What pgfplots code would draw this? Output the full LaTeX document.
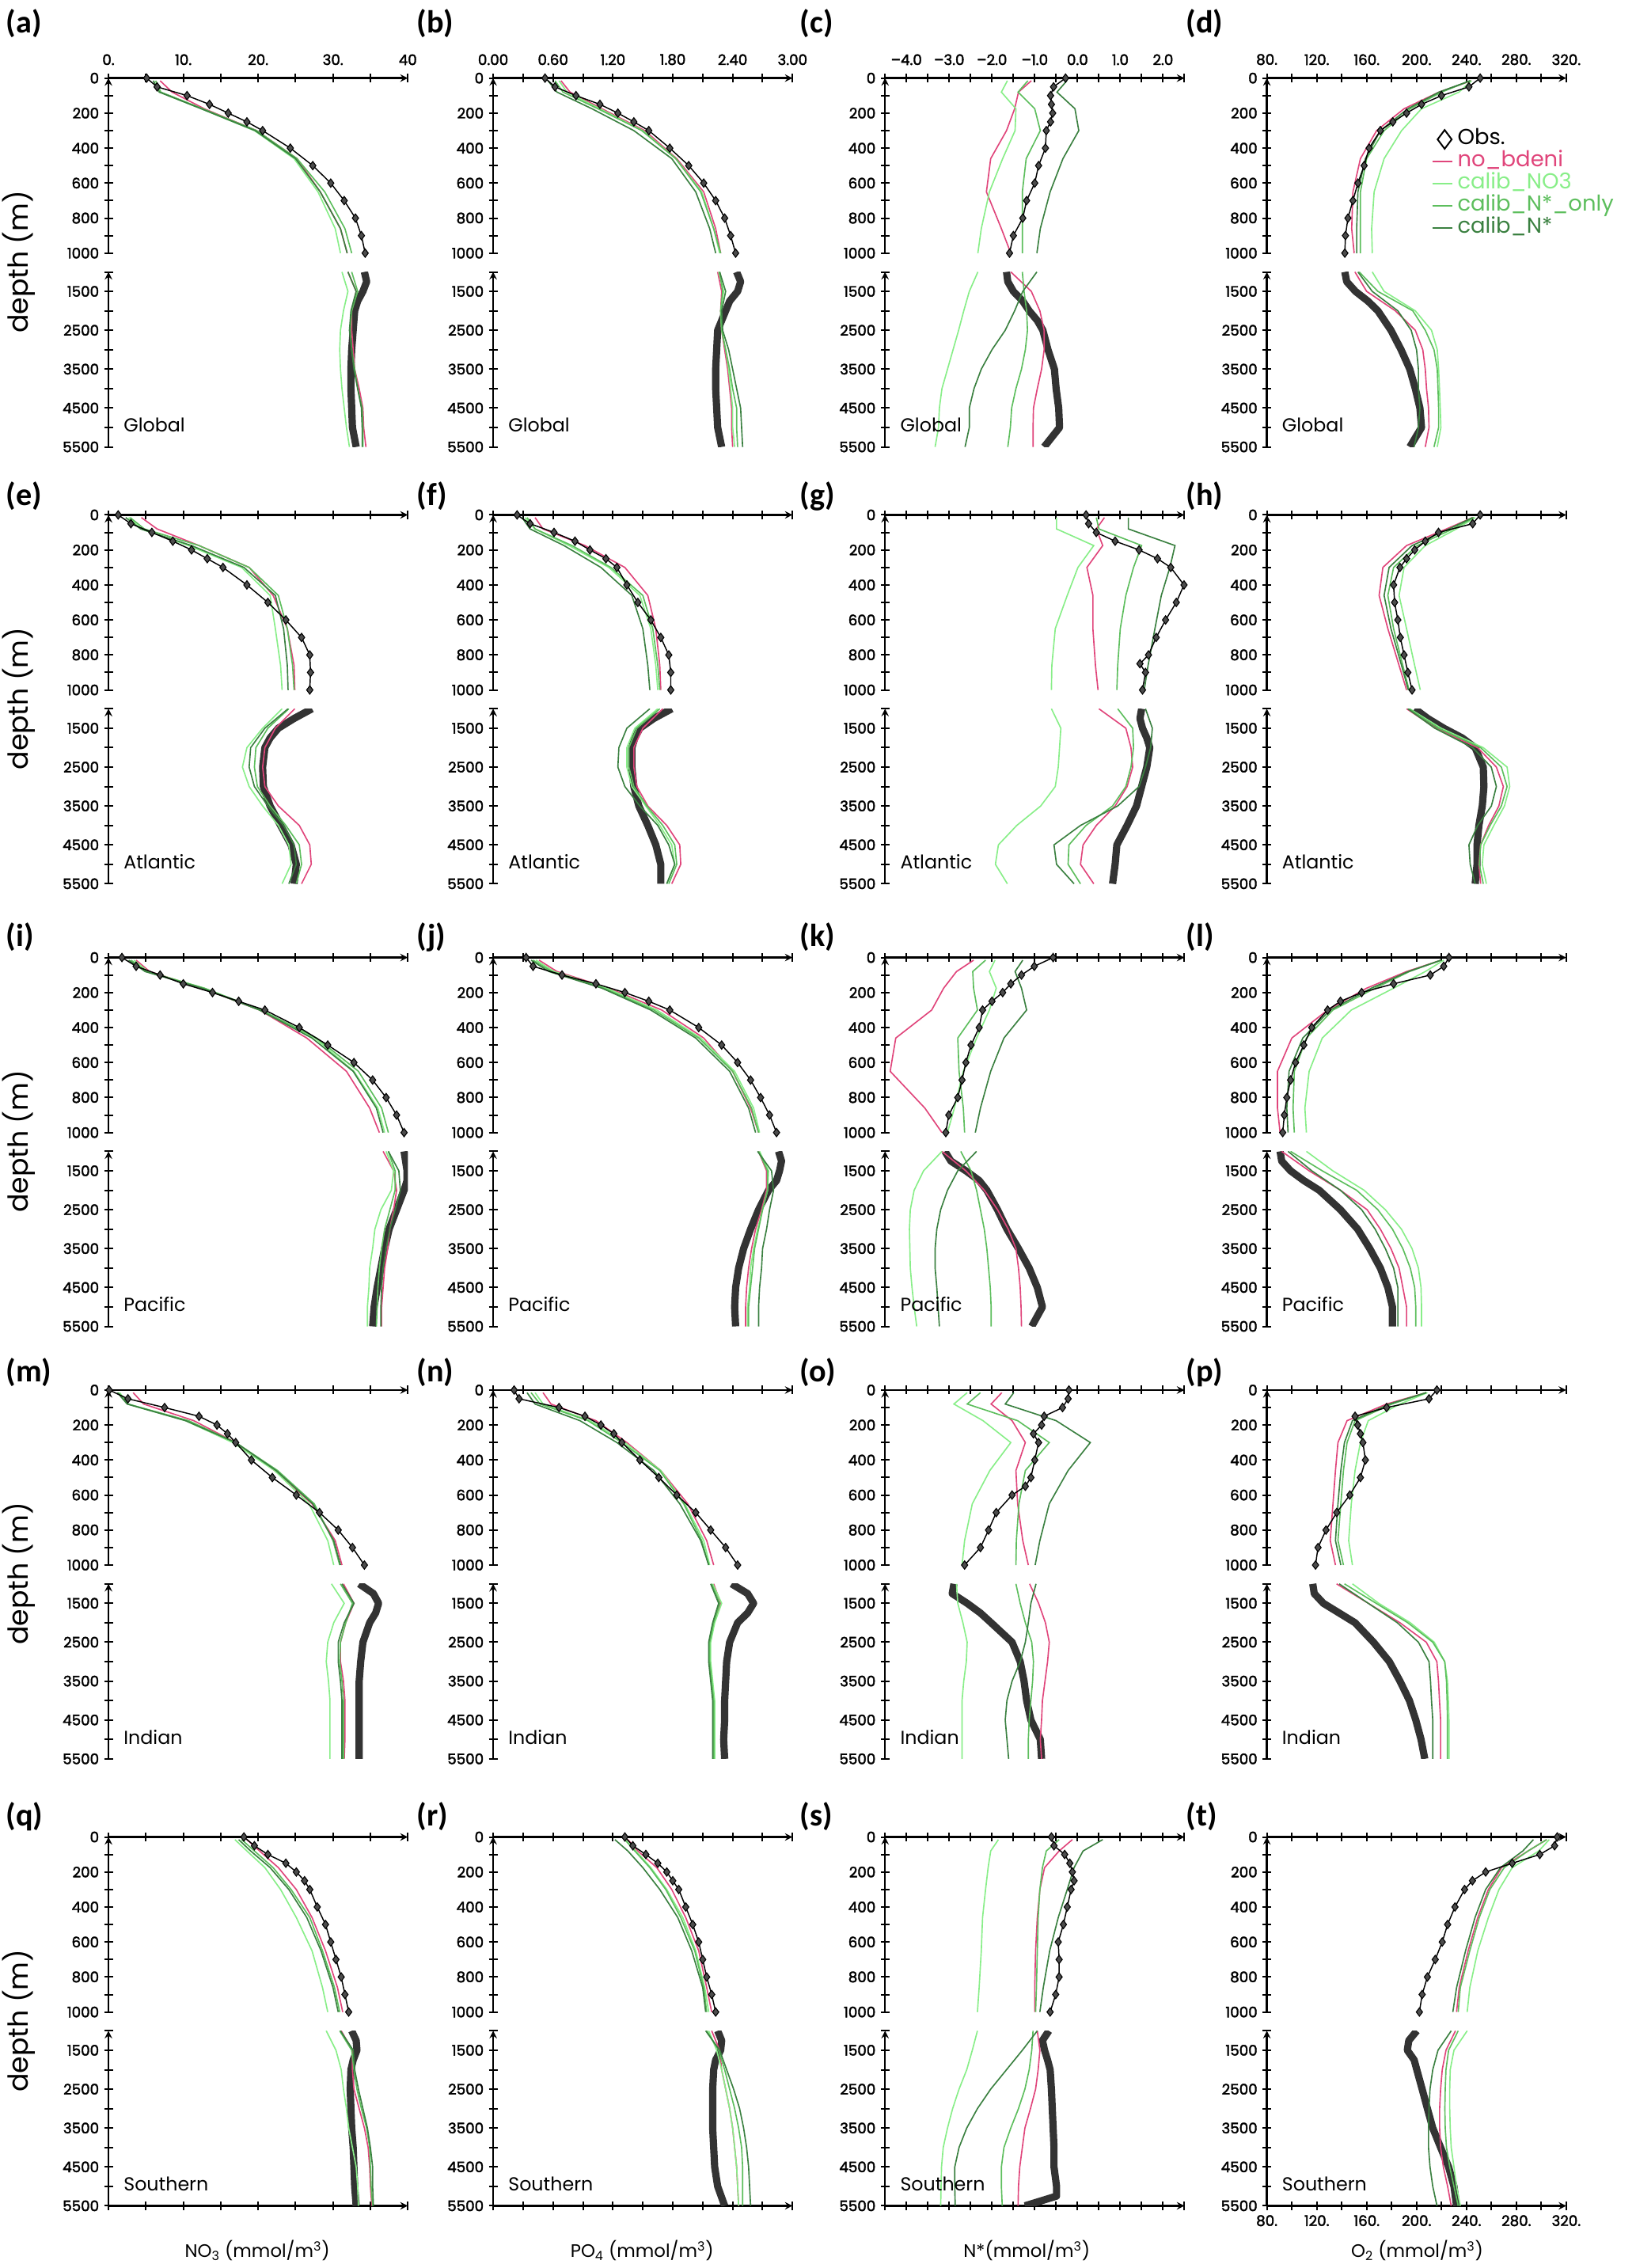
\documentclass[border=0pt]{standalone}
\usepackage{fontspec}
\setmainfont{Poppins}
\newfontfamily\carl{Carlito}
\newfontfamily\tickf{Poppins}[FakeBold=2.2]
\usepackage{pgfplots}
\usepackage{pgfplotstable}
\pgfplotsset{compat=1.18}
\definecolor{cNB}{HTML}{E0457B}
\definecolor{cNO}{HTML}{88EE88}
\definecolor{cSO}{HTML}{5DBE5D}
\definecolor{cNS}{HTML}{3A8040}
\definecolor{cOB}{HTML}{333333}
% ---------------- data: models (a=no_bdeni, b=calib_NO3, c=calib_N*_only, e=calib_N*) and obs
% (a) NO3 Global
\pgfplotstableread{
d a b c e
15 6.9 6.0 6.3 6.0
80 8.5 6.8 7.0 6.8
175 12.8 12.4 12.6 12.4
300 19.8 19.5 19.8 19.6
460 25.2 24.8 25.2 25.0
650 28.3 28.0 28.9 28.3
860 31.0 30.3 31.6 31.0
1000 31.9 31.0 32.5 31.9
}\MaU
\pgfplotstableread{
d v
0 5.1
50 6.5
100 10.5
150 13.5
200 16.0
250 18.5
300 20.6
400 24.3
500 27.3
600 29.7
700 31.5
800 33.0
900 33.8
1000 34.3
}\OaU
\pgfplotstableread{
d a b c e
1000 32.0 31.2 32.5 32.0
1500 33.1 32.0 33.3 33.1
2000 32.5 31.4 32.5 32.4
2500 32.5 31.0 32.3 32.2
3000 32.7 30.9 32.5 32.5
3500 32.9 31.0 32.9 32.8
4000 33.5 31.2 33.3 33.3
4500 34.0 31.5 33.9 33.8
5000 34.1 31.8 34.0 33.9
5500 34.4 32.2 34.0 33.9
}\MaL
\pgfplotstableread{
d v
1000 34.2
1250 34.5
1500 34.0
1750 33.3
2000 32.9
2500 32.7
3000 32.5
3500 32.4
4000 32.4
4500 32.5
5000 32.6
5500 33.1
}\OaL
% (b) PO4 Global
\pgfplotstableread{
d a b c e
15 0.68 0.66 0.62 0.55
80 0.77 0.74 0.70 0.64
175 1.09 1.07 1.05 0.99
300 1.52 1.50 1.49 1.41
460 1.84 1.83 1.83 1.79
650 2.11 2.09 2.08 2.03
860 2.23 2.21 2.21 2.17
1000 2.28 2.27 2.28 2.23
}\MbU
\pgfplotstableread{
d v
0 0.52
50 0.62
100 0.83
150 1.07
200 1.25
250 1.41
300 1.56
400 1.77
500 1.96
600 2.11
700 2.23
800 2.32
900 2.38
1000 2.43
}\ObU
\pgfplotstableread{
d a b c e
1000 2.25 2.26 2.27 2.27
1500 2.29 2.31 2.30 2.33
2000 2.28 2.28 2.28 2.29
2500 2.29 2.29 2.29 2.30
3000 2.32 2.33 2.33 2.36
3500 2.35 2.36 2.37 2.40
4000 2.37 2.38 2.40 2.44
4500 2.39 2.40 2.44 2.48
5000 2.39 2.40 2.44 2.49
5500 2.40 2.42 2.45 2.50
}\MbL
\pgfplotstableread{
d v
1000 2.44
1250 2.48
1500 2.45
1750 2.37
2000 2.33
2500 2.25
3000 2.24
3500 2.23
4000 2.23
4500 2.24
5000 2.25
5500 2.29
}\ObL
% (c) N* Global
\pgfplotstableread{
d a b c e
15 -1.08 -1.64 -1.16 -0.25
80 -1.38 -1.78 -1.39 -0.48
175 -1.47 -1.44 -1.00 -0.06
300 -1.66 -1.46 -0.87 0.03
460 -2.03 -1.75 -1.20 -0.34
650 -2.13 -2.06 -1.29 -0.64
860 -1.78 -2.25 -1.29 -0.87
1000 -1.56 -2.33 -1.29 -0.95
}\McU
\pgfplotstableread{
d v
0 -0.28
50 -0.56
100 -0.63
150 -0.61
200 -0.58
250 -0.63
300 -0.73
400 -0.75
500 -0.91
600 -1.00
700 -1.19
800 -1.28
900 -1.50
1000 -1.59
}\OcU
\pgfplotstableread{
d a b c e
1000 -1.56 -2.33 -1.29 -0.95
1500 -1.08 -2.53 -1.25 -1.28
2000 -0.88 -2.66 -1.19 -1.47
2500 -0.78 -2.78 -1.17 -1.69
3000 -0.78 -2.91 -1.22 -2.00
3500 -0.84 -3.04 -1.31 -2.25
4000 -0.94 -3.17 -1.44 -2.42
4500 -1.03 -3.23 -1.54 -2.53
5000 -1.04 -3.25 -1.57 -2.53
5500 -1.04 -3.33 -1.63 -2.63
}\McL
\pgfplotstableread{
d v
1000 -1.66
1250 -1.63
1500 -1.50
1750 -1.28
2000 -1.13
2250 -0.94
2500 -0.81
3000 -0.69
3500 -0.54
4000 -0.50
4500 -0.44
5000 -0.42
5500 -0.78
}\OcL
% (d) O2 Global
\pgfplotstableread{
d a b c e
15 244 244 243 243
80 218 234 220 218
175 190 204 195 193
300 168 188 174 171
460 155 174 160 159
650 149 166 155 153
860 148 164 155 152
1000 150 164.5 155 152
}\MdU
\pgfplotstableread{
d v
0 251
50 242
100 220
150 204
200 192
250 181
300 171
400 162
500 158
600 153
700 149
800 145
900 143
1000 142.5
}\OdU
\pgfplotstableread{
d a b c e
1000 150.6 164.5 154 153
1500 160 174 169 164.5
2000 183 199 197 185
2500 199 212 207 195.7
3000 205 216.6 214 200
3500 207 217.7 216.6 201.5
4000 208 218.4 217.2 201.5
4500 209.6 219 217.7 202.7
5000 210 219.5 217.7 201.5
5500 207 216.6 214 198
}\MdL
\pgfplotstableread{
d v
1000 142.5
1250 144
1500 151
1750 161
2000 169
2500 179.5
3000 187.6
3500 194.6
4000 199
4500 202.7
5000 204
5500 194.6
}\OdL
% (e) NO3 Atlantic
\pgfplotstableread{
d a b c e
15 4.4 2.7 2.9 2.3
80 6.5 4.4 4.8 4.3
175 12.1 10.7 12.1 11.1
300 18.8 17.8 18.8 18.1
460 22.0 21.6 22.7 22.3
650 23.9 22.3 23.9 23.4
860 24.8 23.0 24.6 23.9
1000 24.9 23.2 24.8 24.0
}\MeU
\pgfplotstableread{
d v
0 1.3
50 3.0
100 5.8
150 8.6
200 11.1
250 13.2
300 15.3
400 18.5
500 21.3
600 23.7
700 25.8
800 26.9
900 27.0
1000 26.9
}\OeU
\pgfplotstableread{
d a b c e
1000 24.9 23.2 24.1 24.0
1500 22.3 20.6 21.3 20.9
2000 20.9 18.5 19.7 19.0
2500 20.6 17.9 19.5 18.8
3000 20.9 18.8 19.9 19.5
3500 22.7 20.6 21.6 21.3
4000 25.5 22.7 23.7 23.4
4500 26.9 24.1 25.5 24.8
5000 27.1 24.4 25.8 25.1
5500 25.8 23.2 25.1 24.1
}\MeL
\pgfplotstableread{
d v
1000 27.2
1250 24.8
1500 22.7
1750 21.6
2000 20.9
2500 20.6
3000 20.7
3500 21.6
4000 23.0
4500 24.4
5000 25.1
5500 24.8
}\OeL
% (f) PO4 Atlantic
\pgfplotstableread{
d a b c e
15 0.42 0.32 0.34 0.29
80 0.50 0.42 0.42 0.37
175 0.92 0.76 0.79 0.71
300 1.32 1.16 1.18 1.08
460 1.55 1.47 1.50 1.39
650 1.63 1.58 1.60 1.50
860 1.67 1.63 1.65 1.55
1000 1.68 1.65 1.67 1.57
}\MfU
\pgfplotstableread{
d v
0 0.24
50 0.37
100 0.61
150 0.82
200 0.97
250 1.13
300 1.24
400 1.34
500 1.45
600 1.58
700 1.68
800 1.76
900 1.78
1000 1.78
}\OfU
\pgfplotstableread{
d a b c e
1000 1.70 1.65 1.67 1.57
1500 1.50 1.42 1.44 1.34
2000 1.41 1.34 1.36 1.26
2500 1.41 1.34 1.36 1.25
3000 1.44 1.39 1.41 1.32
3500 1.55 1.53 1.54 1.47
4000 1.74 1.67 1.70 1.65
4500 1.87 1.79 1.82 1.76
5000 1.88 1.82 1.84 1.82
5500 1.79 1.74 1.76 1.74
}\MfL
\pgfplotstableread{
d v
1000 1.79
1250 1.61
1500 1.47
1750 1.42
2000 1.39
2500 1.39
3000 1.41
3500 1.46
4000 1.55
4500 1.63
5000 1.68
5500 1.68
}\OfL
% (g) N* Atlantic
\pgfplotstableread{
d a b c e
15 0.63 -0.49 0.44 1.19
80 0.44 -0.49 0.50 1.19
175 0.59 0.38 1.50 2.28
300 0.22 0.01 1.31 2.16
460 0.36 -0.24 1.13 1.96
650 0.36 -0.52 1.00 1.81
860 0.42 -0.60 0.94 1.65
1000 0.48 -0.61 0.92 1.56
}\MgU
\pgfplotstableread{
d v
0 0.20
50 0.26
100 0.44
150 0.88
200 1.44
250 1.87
300 2.18
400 2.49
500 2.31
600 2.06
700 1.84
800 1.66
850 1.46
900 1.59
1000 1.52
}\OgU
\pgfplotstableread{
d a b c e
1000 0.50 -0.61 0.94 1.59
1500 1.13 -0.39 1.29 1.75
2000 1.25 -0.42 1.31 1.71
2500 1.29 -0.45 1.25 1.59
3000 1.16 -0.52 1.13 1.44
3500 0.88 -0.86 0.82 0.94
4000 0.44 -1.42 0.20 0.07
4500 0.13 -1.85 -0.20 -0.55
5000 0.07 -1.92 -0.22 -0.49
5500 0.38 -1.64 0.07 -0.08
}\MgL
\pgfplotstableread{
d v
1000 1.50
1250 1.46
1500 1.52
1750 1.62
2000 1.69
2500 1.62
3000 1.50
3500 1.38
4000 1.16
4500 0.92
5000 0.88
5500 0.82
}\OgL
% (h) O2 Atlantic
\pgfplotstableread{
d a b c e
15 245 247 246 245
80 224 232 229 226
175 192 207 200.6 196.4
300 173 190 181.6 178
460 170 186 177 174
650 177 192 181.6 179.5
860 186 198.5 189 188
1000 192 203 194 193.4
}\MhU
\pgfplotstableread{
d v
0 251
50 245
100 217.6
150 207
200 198.5
250 192
300 186.7
400 181.6
500 182.4
600 185
700 187
800 190
900 193
1000 196.4
}\OhU
\pgfplotstableread{
d a b c e
1000 192 194.5 194 193
1500 215.4 219.7 217.6 214.6
2000 249 253.5 251.4 245
2500 264 272.6 268 259.9
3000 269.6 274.7 272.6 264
3500 266 270.5 268 260
4000 257.8 262 259 249
4500 251.4 254 251.4 242
5000 250 252.7 250.3 243
5500 251.4 256 253.5 247
}\MhL
\pgfplotstableread{
d v
1000 198.5
1250 209
1500 221.8
1750 236.6
2000 247
2500 253.5
3000 254
3500 252.7
4000 250
4500 248.5
5000 248.5
5500 247
}\OhL
% (i) NO3 Pacific
\pgfplotstableread{
d a b c e
15 3.7 3.4 3.0 2.7
80 5.5 5.3 5.1 4.9
175 12.5 12.8 12.8 12.5
300 20.2 20.2 20.4 20.2
460 26.5 27.6 27.8 27.2
650 31.8 32.8 33.4 32.7
860 34.9 36.0 36.5 35.8
1000 36.2 36.9 37.4 36.7
}\MiU
\pgfplotstableread{
d v
0 1.8
50 3.7
100 6.9
150 10.0
200 13.9
250 17.4
300 20.9
400 25.5
500 29.3
600 32.8
700 35.3
800 37.1
900 38.5
1000 39.5
}\OiU
\pgfplotstableread{
d a b c e
1000 36.7 37.1 37.4 37.4
1500 38.1 38.1 38.3 38.8
2000 38.5 37.8 38.3 39.0
2500 38.1 36.4 37.6 38.3
3000 37.6 35.6 36.9 37.6
3500 37.3 35.3 36.5 37.1
4000 36.9 34.9 36.2 36.7
4500 36.7 34.8 36.0 36.5
5000 36.5 34.6 35.9 36.4
5500 36.5 34.6 35.8 36.4
}\MiL
\pgfplotstableread{
d v
1000 39.5
1250 39.7
1500 39.9
1750 39.9
2000 39.5
2500 38.5
3000 37.5
3500 36.9
4000 36.4
4500 35.9
5000 35.5
5500 35.3
}\OiL
% (j) PO4 Pacific
\pgfplotstableread{
d a b c e
15 0.46 0.43 0.40 0.38
80 0.64 0.61 0.59 0.56
175 1.16 1.14 1.11 1.09
300 1.69 1.64 1.61 1.58
460 2.11 2.08 2.06 2.03
650 2.40 2.42 2.40 2.37
860 2.58 2.61 2.59 2.56
1000 2.66 2.67 2.66 2.63
}\MjU
\pgfplotstableread{
d v
0 0.33
50 0.40
100 0.69
150 1.03
200 1.32
250 1.56
300 1.77
400 2.06
500 2.29
600 2.45
700 2.58
800 2.68
900 2.77
1000 2.84
}\OjU
\pgfplotstableread{
d a b c e
1000 2.66 2.67 2.66 2.65
1500 2.74 2.76 2.75 2.79
2000 2.74 2.75 2.75 2.81
2500 2.69 2.70 2.70 2.77
3000 2.63 2.65 2.66 2.74
3500 2.59 2.61 2.62 2.70
4000 2.56 2.58 2.60 2.69
4500 2.54 2.57 2.58 2.67
5000 2.53 2.55 2.56 2.66
5500 2.53 2.55 2.56 2.66
}\MjL
\pgfplotstableread{
d v
1000 2.86
1250 2.89
1500 2.87
1750 2.84
2000 2.76
2500 2.66
3000 2.58
3500 2.51
4000 2.46
4500 2.43
5000 2.42
5500 2.43
}\OjL
% (k) N* Pacific
\pgfplotstableread{
d a b c e
15 -2.43 -1.93 -2.15 -1.28
80 -2.83 -2.06 -2.45 -1.46
175 -3.13 -1.90 -2.43 -1.31
300 -3.41 -2.06 -2.34 -1.19
460 -4.25 -2.36 -2.80 -1.72
650 -4.38 -2.67 -2.77 -2.03
860 -3.57 -2.88 -2.67 -2.27
1000 -3.17 -3.04 -2.64 -2.39
}\MkU
\pgfplotstableread{
d v
0 -0.57
50 -1.01
100 -1.31
150 -1.56
200 -1.75
250 -2.00
300 -2.22
400 -2.30
500 -2.49
600 -2.61
700 -2.70
800 -2.80
900 -3.01
1000 -3.08
}\OkU
\pgfplotstableread{
d a b c e
1000 -3.17 -3.17 -2.73 -2.36
1500 -2.61 -3.60 -2.49 -2.80
2000 -2.18 -3.82 -2.36 -3.04
2500 -1.87 -3.91 -2.27 -3.20
3000 -1.62 -3.93 -2.18 -3.29
3500 -1.44 -3.92 -2.12 -3.33
4000 -1.38 -3.91 -2.08 -3.33
4500 -1.34 -3.87 -2.04 -3.29
5000 -1.32 -3.82 -2.02 -3.26
5500 -1.31 -3.76 -2.02 -3.23
}\MkL
\pgfplotstableread{
d v
1000 -3.10
1250 -2.96
1500 -2.61
1750 -2.30
2000 -2.12
2500 -1.87
3000 -1.65
3500 -1.38
4000 -1.13
4500 -0.94
5000 -0.82
5500 -1.07
}\OkL
% (l) O2 Pacific
\pgfplotstableread{
d a b c e
15 219.7 221.8 219.7 219.7
80 192 207 194.3 193.4
175 160 181.6 166.8 163.8
300 128.7 147.7 132.9 130.8
460 100 124.4 111.7 108.8
650 88.5 113.9 102 97.8
860 88.5 110.5 101 96
1000 90.6 111.7 102 97
}\MlU
\pgfplotstableread{
d v
0 226
50 221.8
100 211
150 181.6
200 156
250 139
300 128.7
400 116
500 109.6
600 103
700 99
800 96
900 94
1000 92.7
}\OlU
\pgfplotstableread{
d a b c e
1000 91.9 111.7 99 97
1500 113.9 132.9 124.4 116
2000 139 158 152 139
2500 160.4 175 169 156
3000 171 187.9 180.7 166.8
3500 179.5 196.4 189 175
4000 186 201.5 195 181.6
4500 189 203.6 198.5 185
5000 192 204 199.4 185
5500 192 204 199.4 185
}\MlL
\pgfplotstableread{
d v
1000 90.6
1250 91.9
1500 99
1750 109.6
2000 122
2500 139
3000 152.8
3500 162.5
4000 171
4500 177
5000 180.7
5500 180.7
}\OlL
% (m) NO3 Indian
\pgfplotstableread{
d a b c e
15 3.3 1.5 1.3 1.2
80 4.7 2.6 2.6 2.5
175 11.4 10.3 10.7 10.3
300 17.0 16.6 17.0 17.0
460 22.2 22.2 22.6 22.4
650 27.2 26.8 27.5 27.3
860 30.3 29.3 30.0 30.1
1000 31.2 30.1 30.9 31.0
}\MmU
\pgfplotstableread{
d v
0 0.1
50 2.6
100 7.5
150 12.1
200 14.5
250 15.9
300 17.0
400 19.1
500 21.9
600 25.1
700 28.2
800 30.7
900 32.6
1000 34.2
}\OmU
\pgfplotstableread{
d a b c e
1000 31.4 29.8 31.0 31.2
1500 32.8 31.5 32.6 32.8
2000 31.7 30.1 31.7 31.5
2500 31.0 29.3 31.0 30.7
3000 31.0 29.1 30.9 30.7
3500 31.4 29.4 31.2 31.0
4000 31.6 29.6 31.4 31.2
4500 31.6 29.6 31.4 31.2
5000 31.6 29.6 31.4 31.2
5500 31.5 29.6 31.4 31.2
}\MmL
\pgfplotstableread{
d v
1000 33.5
1250 35.4
1500 36.1
1750 35.7
2000 34.9
2500 34.0
3000 33.7
3500 33.5
4000 33.5
4500 33.5
5000 33.5
5500 33.5
}\OmL
% (n) PO4 Indian
\pgfplotstableread{
d a b c e
15 0.50 0.42 0.38 0.34
80 0.58 0.50 0.47 0.42
175 1.03 0.97 0.95 0.87
300 1.34 1.32 1.29 1.24
460 1.68 1.68 1.67 1.61
650 1.95 1.92 1.91 1.87
860 2.14 2.11 2.09 2.08
1000 2.21 2.17 2.16 2.16
}\MnU
\pgfplotstableread{
d v
0 0.21
50 0.26
100 0.66
150 0.92
200 1.08
250 1.21
300 1.29
400 1.47
500 1.66
600 1.84
700 2.03
800 2.18
900 2.33
1000 2.45
}\OnU
\pgfplotstableread{
d a b c e
1000 2.21 2.20 2.19 2.18
1500 2.28 2.29 2.27 2.26
2000 2.21 2.22 2.21 2.20
2500 2.17 2.18 2.17 2.16
3000 2.17 2.18 2.17 2.16
3500 2.19 2.20 2.19 2.18
4000 2.21 2.22 2.21 2.20
4500 2.21 2.22 2.21 2.20
5000 2.21 2.22 2.21 2.20
5500 2.21 2.22 2.21 2.20
}\MnL
\pgfplotstableread{
d v
1000 2.39
1250 2.55
1500 2.61
1750 2.55
2000 2.45
2500 2.37
3000 2.34
3500 2.33
4000 2.32
4500 2.32
5000 2.31
5500 2.32
}\OnL
% (o) N* Indian
\pgfplotstableread{
d a b c e
15 -1.77 -2.58 -2.27 -1.49
80 -2.02 -2.89 -2.58 -1.69
175 -1.53 -2.21 -1.40 -0.50
300 -1.22 -1.56 -0.66 0.30
460 -1.44 -2.05 -1.22 -0.22
650 -1.40 -2.46 -1.37 -0.66
860 -1.28 -2.64 -1.43 -0.88
1000 -1.15 -2.70 -1.44 -0.99
}\MoU
\pgfplotstableread{
d v
0 -0.20
50 -0.22
100 -0.35
150 -0.78
200 -0.84
250 -1.03
300 -0.91
400 -1.00
500 -1.09
550 -1.22
600 -1.53
700 -1.90
800 -2.08
900 -2.27
1000 -2.64
}\OoU
\pgfplotstableread{
d a b c e
1000 -1.12 -2.83 -1.44 -0.97
1500 -0.91 -2.80 -1.34 -1.09
2000 -0.75 -2.68 -1.22 -1.15
2500 -0.66 -2.58 -1.07 -1.22
3000 -0.70 -2.60 -1.03 -1.34
3500 -0.76 -2.66 -1.05 -1.53
4000 -0.82 -2.70 -1.09 -1.65
4500 -0.84 -2.70 -1.13 -1.69
5000 -0.87 -2.70 -1.15 -1.65
5500 -0.84 -2.70 -1.15 -1.61
}\MoL
\pgfplotstableread{
d v
1000 -2.89
1250 -2.93
1500 -2.58
1750 -2.27
2000 -2.02
2500 -1.53
3000 -1.34
3500 -1.25
4000 -1.19
4500 -1.09
5000 -0.87
5500 -0.84
}\OoL
% (p) O2 Indian
\pgfplotstableread{
d a b c e
15 207.8 208.7 207.8 207.8
80 176 186.7 180.3 178.2
175 144.3 161.3 150.7 148.6
300 137 155 144.3 142.2
460 135 150.7 141.4 139.3
650 133 147.7 139.3 137
860 130.8 145.6 137 135
1000 135 148.6 141.4 139.3
}\MpU
\pgfplotstableread{
d v
0 216.3
50 210
100 176
150 150.7
200 152.8
250 155
300 157
400 159
500 155
600 146.5
700 136
800 127.4
900 121
1000 119
}\OpU
\pgfplotstableread{
d a b c e
1000 135.9 148.6 142.2 138
1500 161.3 169.7 167.6 161.3
2000 186.7 195 193 184.6
2500 207.8 214.2 213 201.5
3000 216.3 222.6 222.6 210
3500 217.6 224.8 224 211.2
4000 218.4 225.5 224.5 212
4500 219.3 226 224.8 213
5000 219.3 226 224.8 213
5500 219.3 226 224.8 213
}\MpL
\pgfplotstableread{
d v
1000 116.8
1250 118
1500 125.3
1750 138
2000 150.7
2500 165.5
3000 178.2
3500 186.7
4000 194.3
4500 199.4
5000 203.6
5500 206.6
}\OpL
% (q) NO3 Southern
\pgfplotstableread{
d a b c e
15 18.5 16.9 17.8 17.4
80 20.2 18.5 19.5 19.0
175 22.7 20.9 22.0 21.6
300 25.1 23.0 24.4 24.1
460 27.2 25.1 26.9 26.5
650 29.0 27.2 28.6 28.4
860 30.6 28.6 30.2 30.0
1000 31.3 29.3 30.9 30.7
}\MqU
\pgfplotstableread{
d v
0 18.1
50 19.5
100 21.3
150 23.7
200 25.1
250 26.2
300 26.9
400 27.9
500 29.0
600 29.7
700 30.4
800 31.1
900 31.6
1000 32.1
}\OqU
\pgfplotstableread{
d a b c e
1000 31.1 29.1 30.9 31.0
1500 32.6 30.4 32.5 32.7
2000 32.6 31.1 32.8 32.9
2500 32.8 31.4 33.2 33.4
3000 33.5 31.8 33.8 34.0
3500 34.2 32.1 34.5 34.6
4000 34.7 32.6 34.9 35.0
4500 34.9 33.1 35.0 35.3
5000 35.0 33.3 35.1 35.3
5500 35.2 33.4 35.3 35.4
}\MqL
\pgfplotstableread{
d v
1000 32.5
1250 33.1
1500 33.2
1750 32.7
2000 32.4
2500 32.3
3000 32.4
3500 32.5
4000 32.7
4500 32.8
5000 32.9
5500 33.1
}\OqL
% (r) PO4 Southern
\pgfplotstableread{
d a b c e
15 1.35 1.32 1.32 1.22
80 1.45 1.43 1.42 1.35
175 1.64 1.58 1.57 1.50
300 1.79 1.74 1.73 1.67
460 1.93 1.90 1.88 1.85
650 2.06 2.03 2.02 1.99
860 2.14 2.12 2.11 2.10
1000 2.19 2.16 2.14 2.13
}\MrU
\pgfplotstableread{
d v
0 1.32
50 1.40
100 1.53
150 1.65
200 1.74
250 1.80
300 1.86
400 1.93
500 2.00
600 2.06
700 2.10
800 2.14
900 2.19
1000 2.23
}\OrU
\pgfplotstableread{
d a b c e
1000 2.19 2.16 2.14 2.13
1500 2.27 2.24 2.26 2.27
2000 2.29 2.29 2.32 2.34
2500 2.33 2.33 2.37 2.41
3000 2.37 2.37 2.42 2.47
3500 2.40 2.40 2.46 2.51
4000 2.42 2.42 2.49 2.54
4500 2.44 2.44 2.50 2.56
5000 2.45 2.45 2.50 2.57
5500 2.46 2.46 2.50 2.58
}\MrL
\pgfplotstableread{
d v
1000 2.25
1250 2.29
1500 2.28
1750 2.23
2000 2.21
2500 2.20
3000 2.20
3500 2.20
4000 2.21
4500 2.22
5000 2.25
5500 2.32
}\OrL
% (s) N* Southern
\pgfplotstableread{
d a b c e
15 -0.12 -1.85 -0.43 0.59
80 -0.43 -2.03 -0.73 0.13
175 -0.77 -2.09 -0.82 -0.08
300 -0.88 -2.15 -0.88 -0.24
460 -0.94 -2.22 -0.92 -0.45
650 -0.98 -2.25 -0.94 -0.65
860 -1.00 -2.30 -0.96 -0.80
1000 -1.00 -2.34 -0.98 -0.88
}\MsU
\pgfplotstableread{
d v
0 -0.61
50 -0.55
100 -0.30
150 -0.18
200 -0.12
250 -0.08
300 -0.15
400 -0.24
500 -0.33
600 -0.45
700 -0.43
800 -0.43
900 -0.51
1000 -0.64
}\OsU
\pgfplotstableread{
d a b c e
1000 -0.94 -2.34 -1.04 -0.94
1500 -0.88 -2.46 -1.07 -1.29
2000 -0.92 -2.59 -1.13 -1.66
2500 -0.98 -2.77 -1.23 -2.03
3000 -1.10 -2.92 -1.38 -2.34
3500 -1.23 -3.04 -1.56 -2.59
4000 -1.29 -3.14 -1.72 -2.77
4500 -1.35 -3.18 -1.78 -2.87
5000 -1.38 -3.19 -1.78 -2.87
5500 -1.39 -3.20 -1.76 -2.86
}\MsL
\pgfplotstableread{
d v
1000 -0.67
1250 -0.82
1500 -0.77
1750 -0.70
2000 -0.64
2500 -0.61
3000 -0.59
3500 -0.57
4000 -0.55
4500 -0.55
5000 -0.49
5250 -0.49
5500 -1.23
}\OsL
% (t) O2 Southern
\pgfplotstableread{
d a b c e
15 304.3 306.4 304.3 293.7
80 289.4 298 289.4 285.2
175 268.2 276.7 270.3 267.3
300 257.6 266.1 258.8 255.4
460 249.1 257.6 250.3 246.9
650 241.4 249.1 242.7 239.3
860 234.2 242.7 235.1 232.1
1000 232.1 240.6 233.4 229.1
}\MtU
\pgfplotstableread{
d v
0 312.8
50 310.7
100 298.8
150 276.7
200 255.4
250 244.8
300 238.5
400 230.8
500 224.9
600 220.6
700 215
800 208.7
900 204.5
1000 202.3
}\OtU
\pgfplotstableread{
d a b c e
1000 231.2 240.6 233.4 227.8
1500 223.6 230 225.7 217.2
2000 220.6 227 223.6 213
2500 219.3 226.6 223 210.8
3000 218.5 226.6 222.7 210
3500 218.5 227 223 209.6
4000 219.3 227.8 224 209.6
4500 221.5 230 226.6 210.8
5000 224.9 232.1 230 213
5500 227.8 235.1 233.4 216.4
}\MtL
\pgfplotstableread{
d v
1000 200.2
1250 193.8
1500 192.6
1750 198.1
2000 200.2
2500 204.5
3000 208.7
3500 213
4000 219.3
4500 225.7
5000 230
5500 232.1
}\OtL
% ---------------- styles
\pgfplotsset{
  pbase/.style={scale only axis, width=207pt, height=121pt,
    y filter/.expression={-y},
    tick align=outside, major tick length=6pt,
    axis line style={line width=1.3pt,-},
    tick style={line width=1.1pt, black},
    tick label style={font=\tickf\fontsize{10}{12}\selectfont},
    xticklabels={}},
  pup/.style={pbase, ymin=-1000, ymax=0, axis x line=top, axis y line=left,
    xticklabel style={yshift=2.5pt},
    ytick={-1000,-900,...,0}, yticklabels={1000,,800,,600,,400,,200,,0}},
  plo/.style={pbase, ymin=-5500, ymax=-1000, axis y line=left, axis x line=none,
    ytick={-5500,-5000,...,-1000}, yticklabels={5500,,4500,,3500,,2500,,1500,}},
  plob/.style={pbase, ymin=-5500, ymax=-1000, axis y line=left, axis x line=bottom,
    ytick={-5500,-5000,...,-1000}, yticklabels={5500,,4500,,3500,,2500,,1500,}},
  xNO/.style={xmin=0, xmax=40, xtick={0,5,10,15,20,25,30,35,40}},
  xPO/.style={xmin=0, xmax=3, xtick={0,0.3,0.6,0.9,1.2,1.5,1.8,2.1,2.4,2.7,3}},
  xNS/.style={xmin=-4.5, xmax=2.5, xtick={-4.5,-4,-3.5,-3,-2.5,-2,-1.5,-1,-0.5,0,0.5,1,1.5,2,2.5}},
  xO/.style={xmin=80, xmax=320, xtick={80,100,...,320}},
  lNB/.style={cNB, line width=0.9pt, no markers},
  lNO/.style={cNO, line width=0.9pt, no markers},
  lSO/.style={cSO, line width=0.9pt, no markers},
  lNS/.style={cNS, line width=0.9pt, no markers},
  oU/.style={black, line width=0.8pt, mark=diamond*, mark size=2.9pt,
    mark options={fill=black!70, draw=black, line width=0.6pt}, forget plot},
  oL/.style={cOB, line width=5pt, line join=round, no markers, forget plot},
  legline/.style={legend image code/.code={\draw[##1] (0pt,0pt) -- (14pt,0pt);}},
}
\newcommand{\modelplots}[1]{%
  \addplot[lNB,forget plot] table[x=a,y=d]{#1};
  \addplot[lNO,forget plot] table[x=b,y=d]{#1};
  \addplot[lSO,forget plot] table[x=c,y=d]{#1};
  \addplot[lNS,forget plot] table[x=e,y=d]{#1};}
\newcommand{\obsU}[1]{\addplot[oU] table[x=v,y=d]{#1};}
\newcommand{\obsL}[1]{\addplot[oL] table[x=v,y=d]{#1};}
\newcommand{\regionlabel}[1]{\node[anchor=west,inner sep=0pt,font=\fontsize{13}{15}\selectfont] at (axis description cs:0.05,0.125) {#1};}
% #1 x0, #2 y0, #3 x style, #4 upper extra, #5 lower style, #6 lower extra, #7 letter, #8 region
\newcommand{\panel}[8]{%
  \begin{axis}[pup,#3,#4,at={(#1pt,-#2pt)},anchor=north west]
    \expandafter\modelplots\csname M#7U\endcsname
    \expandafter\obsU\csname O#7U\endcsname
  \end{axis}
  \pgfmathsetmacro\ylo{#2+134}
  \begin{axis}[#5,#3,#6,at={(#1pt,-\ylo pt)},anchor=north west]
    \expandafter\obsL\csname O#7L\endcsname
    \expandafter\modelplots\csname M#7L\endcsname
    \regionlabel{#8}
  \end{axis}}
\newcommand{\plab}[3]{\node[anchor=west,inner sep=0pt,font=\carl\bfseries\fontsize{22}{24}\selectfont] at (#1pt,-#2pt) {(#3)};}
\newcommand{\dlab}[1]{\node[rotate=90,inner sep=0pt,font=\fontsize{19}{21}\selectfont] at (13pt,-#1pt) {depth (m)};}

\begin{document}
\begin{tikzpicture}
\useasboundingbox (0pt,0pt) rectangle (1131pt,-1568pt);
% ---------- row 1
\panel{75}{54}{xNO}{xticklabels={0.,,10.,,20.,,30.,,40}}{plo}{}{a}{Global}
\panel{341}{54}{xPO}{xticklabels={0.00,,0.60,,1.20,,1.80,,2.40,,3.00}}{plo}{}{b}{Global}
\panel{612}{54}{xNS}{xticklabels={,–4.0,,–3.0,,–2.0,,–1.0,,0.0,,1.0,,2.0,}}{plo}{}{c}{Global}
\begin{axis}[pup,xO,xticklabels={80.,,120.,,160.,,200.,,240.,,280.,,320.},
  at={(876pt,-54pt)},anchor=north west,
  legend style={draw=none, fill=none, at={(axis description cs:0.535,0.73)}, anchor=north west,
    font=\fontsize{15}{16}\selectfont, row sep=0.3pt,
    nodes={inner sep=1pt, inner xsep=3pt, text height=10pt, text depth=3pt}},
  legend cell align=left]
  \addlegendimage{only marks, mark=diamond, mark size=6.5pt, black, line width=1.1pt}
  \addlegendentry{Obs.}
  \addlegendimage{lNB,legline}\addlegendentry{\textcolor{cNB}{no\_bdeni}}
  \addlegendimage{lNO,legline}\addlegendentry{\textcolor{cNO}{calib\_NO3}}
  \addlegendimage{lSO,legline}\addlegendentry{\textcolor{cSO}{calib\_N*\_only}}
  \addlegendimage{lNS,legline}\addlegendentry{\textcolor{cNS}{calib\_N*}}
  \modelplots\MdU
  \obsU\OdU
\end{axis}
\begin{axis}[plo,xO,at={(876pt,-188pt)},anchor=north west]
  \obsL\OdL
  \modelplots\MdL
  \regionlabel{Global}
\end{axis}
% ---------- row 2
\panel{75}{356}{xNO}{}{plo}{}{e}{Atlantic}
\panel{341}{356}{xPO}{}{plo}{}{f}{Atlantic}
\panel{612}{356}{xNS}{}{plo}{}{g}{Atlantic}
\panel{876}{356}{xO}{}{plo}{}{h}{Atlantic}
% ---------- row 3
\panel{75}{662}{xNO}{}{plo}{}{i}{Pacific}
\panel{341}{662}{xPO}{}{plo}{}{j}{Pacific}
\panel{612}{662}{xNS}{}{plo}{}{k}{Pacific}
\panel{876}{662}{xO}{}{plo}{}{l}{Pacific}
% ---------- row 4
\panel{75}{961}{xNO}{}{plo}{}{m}{Indian}
\panel{341}{961}{xPO}{}{plo}{}{n}{Indian}
\panel{612}{961}{xNS}{}{plo}{}{o}{Indian}
\panel{876}{961}{xO}{}{plo}{}{p}{Indian}
% ---------- row 5
\panel{75}{1270}{xNO}{}{plob}{}{q}{Southern}
\panel{341}{1270}{xPO}{}{plob}{}{r}{Southern}
\panel{612}{1270}{xNS}{}{plob}{}{s}{Southern}
\panel{876}{1270}{xO}{}{plob}{xticklabels={80.,,120.,,160.,,200.,,240.,,280.,,320.}}{t}{Southern}
% ---------- panel letters
\plab{4}{16}{a}\plab{288}{16}{b}\plab{553}{16}{c}\plab{820}{16}{d}
\plab{4}{343}{e}\plab{288}{343}{f}\plab{553}{343}{g}\plab{820}{343}{h}
\plab{4}{648}{i}\plab{288}{648}{j}\plab{553}{648}{k}\plab{820}{648}{l}
\plab{4}{949}{m}\plab{288}{949}{n}\plab{553}{949}{o}\plab{820}{949}{p}
\plab{4}{1256}{q}\plab{288}{1256}{r}\plab{553}{1256}{s}\plab{820}{1256}{t}
% ---------- depth labels
\dlab{181}\dlab{483}\dlab{789}\dlab{1088}\dlab{1397}
% ---------- bottom labels
\node[font=\fontsize{12.5}{14}\selectfont] at (178pt,-1556pt) {NO\textsubscript{3} (mmol/m\textsuperscript{3})};
\node[font=\fontsize{12.5}{14}\selectfont] at (444pt,-1556pt) {PO\textsubscript{4} (mmol/m\textsuperscript{3})};
\node[font=\fontsize{12.5}{14}\selectfont] at (710pt,-1556pt) {N*(mmol/m\textsuperscript{3})};
\node[font=\fontsize{12.5}{14}\selectfont] at (980pt,-1556pt) {O\textsubscript{2} (mmol/m\textsuperscript{3})};
\end{tikzpicture}
\end{document}
